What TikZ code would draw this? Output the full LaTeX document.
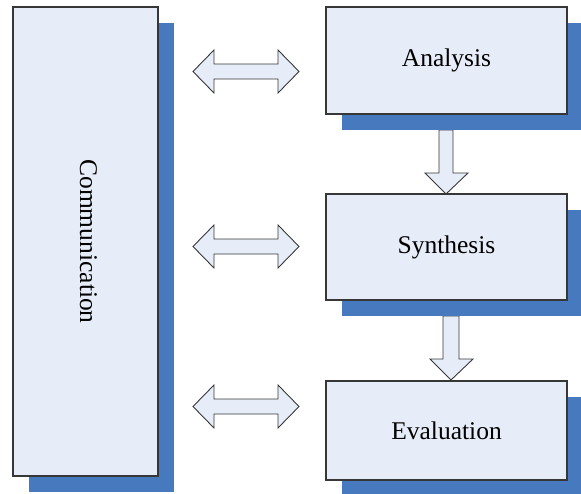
\documentclass[tikz,border=0pt]{standalone}
\usepackage{fontspec}
\setmainfont{Liberation Serif}
\usetikzlibrary{shadows}
\definecolor{boxfill}{RGB}{231,237,248}
\definecolor{shadowblue}{RGB}{71,121,191}
\definecolor{edgegray}{RGB}{55,55,55}
\tikzset{
  stagebox/.style={draw=edgegray, line width=1.1pt, fill=boxfill, inner sep=0pt,
    font=\fontsize{25.5}{30}\selectfont,
    drop shadow={shadow xshift=16pt, shadow yshift=-16pt, fill=shadowblue, opacity=1}},
  blockarrow/.style={draw=edgegray, line width=0.9pt, fill=boxfill, line join=miter},
  pics/dblarrow/.style={code={
    \draw[blockarrow] (-53,0) -- (-32,-21.5) -- (-32,-7.5) -- (32,-7.5) -- (32,-21.5)
      -- (53,0) -- (32,21.5) -- (32,7.5) -- (-32,7.5) -- (-32,21.5) -- cycle;
  }}
}
\begin{document}
\begin{tikzpicture}[x=1pt,y=-1pt]
  \useasboundingbox (0,0) rectangle (581,493);

  % block arrows between the stages
  \draw[blockarrow] (439,130) -- (453,130) -- (453,173) -- (468,173) -- (446,194)
    -- (425,173) -- (439,173) -- cycle;
  \draw[blockarrow] (443,316) -- (459,316) -- (459,359) -- (473,359) -- (451,380)
    -- (430,359) -- (443,359) -- cycle;

  % stage boxes
  \node[stagebox, minimum width=145pt, minimum height=469pt] (comm) at (85.5,241.5)
    {\hspace*{6pt}\rotatebox{-90}{Communication}};
  \node[stagebox, minimum width=241pt, minimum height=107pt] (ana) at (446.5,60.5) {Analysis};
  \node[stagebox, minimum width=241pt, minimum height=106pt] (syn) at (446.5,247) {Synthesis};
  \node[stagebox, minimum width=241pt, minimum height=99pt] (eva) at (446.5,430.5) {Evaluation};

  % two-way links between communication and each stage
  \pic at (246,71.5) {dblarrow};
  \pic at (246,246.5) {dblarrow};
  \pic at (246,406.5) {dblarrow};
\end{tikzpicture}
\end{document}
